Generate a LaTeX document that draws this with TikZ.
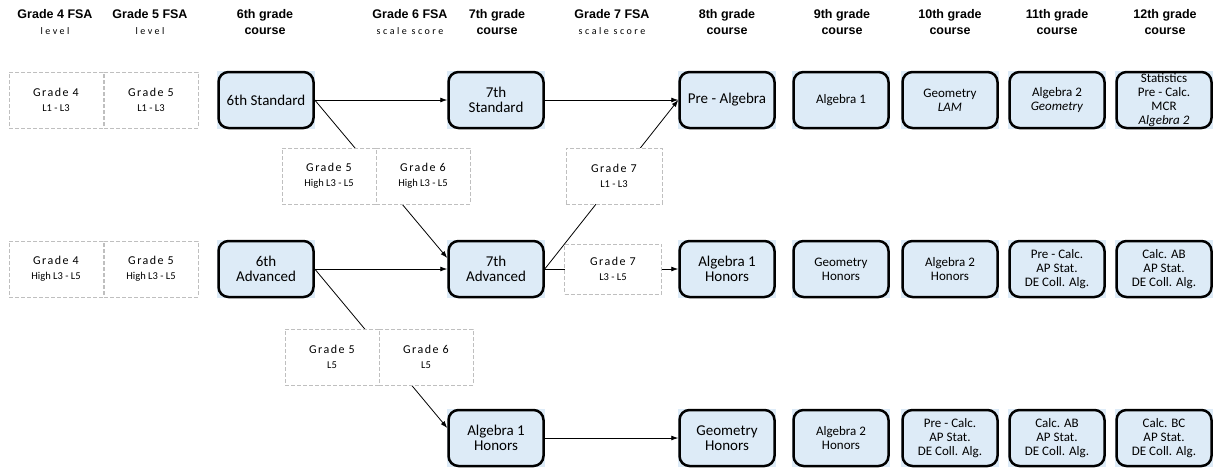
\documentclass[tikz,border=0pt]{standalone}
\usepackage{fontspec}
\setmainfont{Carlito}
\newfontfamily\headfont{Liberation Sans}
\newfontfamily\spreadfont[LetterSpace=25]{Carlito}
\newfontfamily\gradefont[LetterSpace=12]{Carlito}
\usetikzlibrary{arrows.meta,backgrounds}
\definecolor{boxblue}{RGB}{221,235,247}
\newcommand{\headsub}[1]{{\spreadfont\mdseries\fontsize{10}{12}\selectfont #1}}
\newcommand{\lvl}[1]{{\rmfamily\fontsize{10.5}{12}\selectfont #1}}
\tikzset{
  course/.style={
    % The shape:
    shape=rectangle,rounded corners=10pt,
    % The size:
    minimum width=95pt,minimum height=56pt,inner sep=1pt,
    % The border:
    line width=2.5pt,draw=black,
    % The filling:
    fill=boxblue,
    align=center,font=\fontsize{15}{15.5}\selectfont}}
\tikzset{
  upper/.style={course,inner ysep=0pt,font=\fontsize{13}{14}\selectfont}}
\tikzset{
  score/.style={
    % The shape:
    shape=rectangle,minimum width=94pt,minimum height=56pt,
    % The border:
    line width=0.8pt,draw=black!25,dash pattern=on 4pt off 2pt,
    % The filling:
    fill=white,
    align=center,font=\gradefont\fontsize{12}{15}\selectfont}}
\tikzset{
  head/.style={align=center,font=\headfont\bfseries\fontsize{12.5}{15.5}\selectfont}}

\begin{document}
\begin{tikzpicture}[x=1pt,y=-1pt,>={Latex[length=7pt,width=5pt]}]
	\useasboundingbox (0,0) rectangle (1214,467);
	% Column heads
	\node[head] (h4) at (55,22) {Grade 4 FSA\\\headsub{level}};
	\node[head] (h5) at (150,22) {Grade 5 FSA\\\headsub{level}};
	\node[head] (h6) at (410,22) {Grade 6 FSA\\\headsub{scale score}};
	\node[head] (h7) at (612,22) {Grade 7 FSA\\\headsub{scale score}};
	\foreach \x/\g in {265/6th,497/7th,727/8th,842/9th,950/10th,1057/11th,1165/12th}
		\node[head] (c\g) at (\x,22) {\g\ grade\\course};
	% Standard track
	\node[score] (g4a) at (56,100) {Grade 4\\\lvl{L1 - L3}};
	\node[score] (g5a) at (151,100) {Grade 5\\\lvl{L1 - L3}};
	\node[course] (sixstd) at (266,100) {6th Standard};
	\node[course] (sevstd) at (496,100) {7th\\Standard};
	\node[course] (prealg) at (727,100) {Pre - Algebra};
	\node[upper] (algone) at (841,100) {Algebra 1};
	\node[upper] (geomlam) at (950,100) {Geometry\\\textit{LAM}};
	\node[upper] (algtwo) at (1057,100) {Algebra 2\\\textit{Geometry}};
	\node[upper] (stats) at (1164,100) {Statistics\\Pre - Calc.\\MCR\\\textit{Algebra 2}};
	% Scores between the tracks
	\node[score] (g5hi) at (329,176) {Grade 5\\\lvl{High L3 - L5}};
	\node[score] (g6hi) at (423,176) {Grade 6\\\lvl{High L3 - L5}};
	\node[score,minimum width=96pt] (g7lo) at (614,176) {Grade 7\\\lvl{L1 - L3}};
	% Advanced track
	\node[score] (g4b) at (56,269) {Grade 4\\\lvl{High L3 - L5}};
	\node[score] (g5b) at (151,269) {Grade 5\\\lvl{High L3 - L5}};
	\node[course] (sixadv) at (266,269) {6th\\Advanced};
	\node[course] (sevadv) at (496,269) {7th\\Advanced};
	\node[score,minimum width=97pt,minimum height=50pt] (g7hi) at (613,269) {Grade 7\\\lvl{L3 - L5}};
	\node[course] (alghon) at (727,269) {Algebra 1\\Honors};
	\node[upper] (geomhon) at (841,269) {Geometry\\Honors};
	\node[upper] (algtwohon) at (950,269) {Algebra 2\\Honors};
	\node[upper] (precalc) at (1057,269) {Pre - Calc.\\AP Stat.\\DE Coll. Alg.};
	\node[upper] (calcab) at (1164,269) {Calc. AB\\AP Stat.\\DE Coll. Alg.};
	% Accelerated track
	\node[score] (g5top) at (332,357) {Grade 5\\\lvl{L5}};
	\node[score] (g6top) at (426,357) {Grade 6\\\lvl{L5}};
	\node[course] (alghonc) at (496,438) {Algebra 1\\Honors};
	\node[course] (geomhonc) at (727,438) {Geometry\\Honors};
	\node[upper] (algtwohonc) at (841,438) {Algebra 2\\Honors};
	\node[upper] (precalcc) at (950,438) {Pre - Calc.\\AP Stat.\\DE Coll. Alg.};
	\node[upper] (calcabc) at (1057,438) {Calc. AB\\AP Stat.\\DE Coll. Alg.};
	\node[upper] (calcbc) at (1164,438) {Calc. BC\\AP Stat.\\DE Coll. Alg.};
	\begin{scope}[on background layer]
		% Square fill behind the rounded boxes
		\foreach \n in {sixstd,sevstd,prealg,algone,geomlam,algtwo,stats,sixadv,sevadv,alghon,geomhon,algtwohon,precalc,calcab,alghonc,geomhonc,algtwohonc,precalcc,calcabc,calcbc}
			\fill[boxblue] (\n.south west) rectangle (\n.north east);
		% Lines out of the 6th grade courses
		\draw[->,line width=0.8pt] (sixstd) -- (sevstd);
		\draw[->,line width=0.8pt] (sixstd.east) -- ([yshift=11pt]sevadv.west);
		\draw[->,line width=0.8pt] (sixadv) -- (sevadv);
		\draw[->,line width=0.8pt] (sixadv.east) -- ([yshift=10pt]alghonc.west);
		% Lines out of the 7th grade courses
		\draw[->,line width=0.8pt] (sevstd) -- (prealg);
		\draw[->,line width=0.8pt] (sevadv.east) -- (prealg.west);
		\draw[->,line width=0.8pt] (sevadv) -- (alghon);
		\draw[->,line width=0.8pt] (alghonc) -- (geomhonc);
	\end{scope}
\end{tikzpicture}
\end{document}
